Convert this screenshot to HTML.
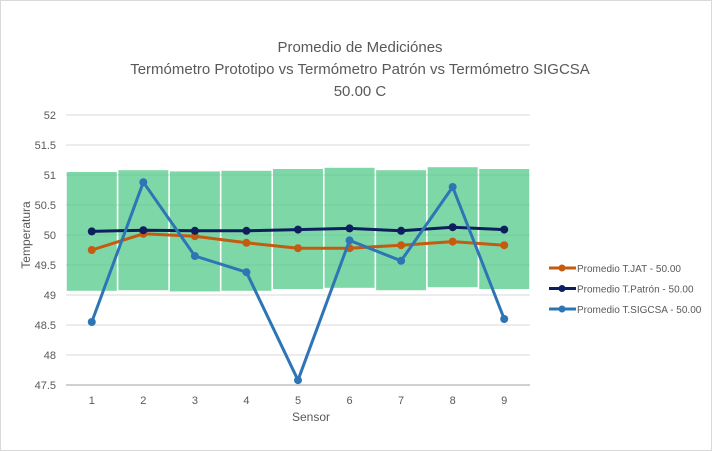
<!DOCTYPE html>
<html><head><meta charset="utf-8"><style>
body{margin:0;background:#fff;}
svg{display:block;font-family:"Liberation Sans",sans-serif;}
</style></head><body>
<svg id="chart" width="712" height="451">
<rect x="0.5" y="0.5" width="711" height="450" fill="#fff" stroke="#d9d9d9"/>
<text x="360" y="52" text-anchor="middle" font-size="15" fill="#595959">Promedio de Mediciónes</text>
<text x="360" y="74" text-anchor="middle" font-size="15" fill="#595959">Termómetro Prototipo vs Termómetro Patrón vs Termómetro SIGCSA</text>
<text x="360" y="96" text-anchor="middle" font-size="15" fill="#595959">50.00 C</text>
<g id="grid"></g><g id="bars"></g><g id="lines"></g><g id="axes"></g><g id="legend"></g>
<text x="311" y="421" text-anchor="middle" font-size="12" fill="#595959">Sensor</text>
<text transform="translate(30,235) rotate(-90)" text-anchor="middle" font-size="12" fill="#595959">Temperatura</text>
</svg>
<script>
const categories=["1","2","3","4","5","6","7","8","9"];
const yTicks=[47.5,48,48.5,49,49.5,50,50.5,51,51.5,52];
const yTickLabels=["47.5","48","48.5","49","49.5","50","50.5","51","51.5","52"];
const bandTop=[51.05,51.08,51.06,51.07,51.1,51.12,51.08,51.13,51.1];
const bandBottom=[49.07,49.08,49.06,49.07,49.1,49.12,49.08,49.13,49.1];
const jat=[49.75,50.02,49.98,49.87,49.78,49.78,49.83,49.89,49.83];
const patron=[50.06,50.08,50.07,50.07,50.09,50.11,50.07,50.13,50.09];
const sigcsa=[48.55,50.88,49.65,49.38,47.58,49.91,49.57,50.8,48.6];
const seriesNames=["Promedio T.JAT - 50.00","Promedio T.Patrón - 50.00","Promedio T.SIGCSA - 50.00"];
const NS="http://www.w3.org/2000/svg";
const x0=66,x1=530,step=(x1-x0)/categories.length;
const X=i=>x0+step*(i+0.5);
const Y=v=>385-(v-47.5)*60;
function mk(tag,attrs,parent){const e=document.createElementNS(NS,tag);for(const k in attrs)e.setAttribute(k,attrs[k]);document.getElementById(parent).appendChild(e);return e;}
yTicks.forEach((t,i)=>{
 const l=mk('line',{x1:x0,x2:x1,y1:Y(t),y2:Y(t),stroke:i==0?'#d0d0d0':'#d9d9d9','stroke-width':i==0?2:1},'grid');
 
 
 const tx=mk('text',{x:56,y:Y(t)+4,'text-anchor':'end','font-size':11,fill:'#595959'},'axes');
 tx.textContent=yTickLabels[i];
 
 
});
categories.forEach((c,i)=>{
 const r=mk('rect',{x:X(i)-step/2+0.8,width:step-1.6,y:Y(bandTop[i]),height:Y(bandBottom[i])-Y(bandTop[i]),fill:'#4cc784','fill-opacity':0.72},'bars');
 
 
 const tx=mk('text',{x:X(i),y:404,'text-anchor':'middle','font-size':11,fill:'#595959'},'axes');
 tx.textContent=c;
 
 
});
const series=[[jat,'#c55a11','jat'],[patron,'#0d1f5c','patron'],[sigcsa,'#2e75b6','sigcsa']];
series.forEach(([d,col,n])=>{
 const p=mk('polyline',{points:d.map((v,i)=>X(i)+','+Y(v)).join(' '),fill:'none',stroke:col,'stroke-width':3,'stroke-linejoin':'round'},'lines');
 
 
 d.forEach((v,i)=>{
  const c=mk('circle',{cx:X(i),cy:Y(v),r:4,fill:col},'lines');
  
  
 });
});
seriesNames.forEach((s,i)=>{
 const y=268+i*20.5;
 const col=series[i][1];
 const g=mk('g',{},'legend');
 
 
 const l=document.createElementNS(NS,'line');
 [['x1',549],['x2',576],['y1',y],['y2',y],['stroke',col],['stroke-width',3]].forEach(a=>l.setAttribute(a[0],a[1]));g.appendChild(l);
 const c=document.createElementNS(NS,'circle');
 [['cx',562],['cy',y],['r',3.5],['fill',col]].forEach(a=>c.setAttribute(a[0],a[1]));g.appendChild(c);
 const t=document.createElementNS(NS,'text');
 [['x',577],['y',y+4],['font-size',10],['fill','#595959']].forEach(a=>t.setAttribute(a[0],a[1]));t.textContent=s;g.appendChild(t);
});
</script>
</body></html>
